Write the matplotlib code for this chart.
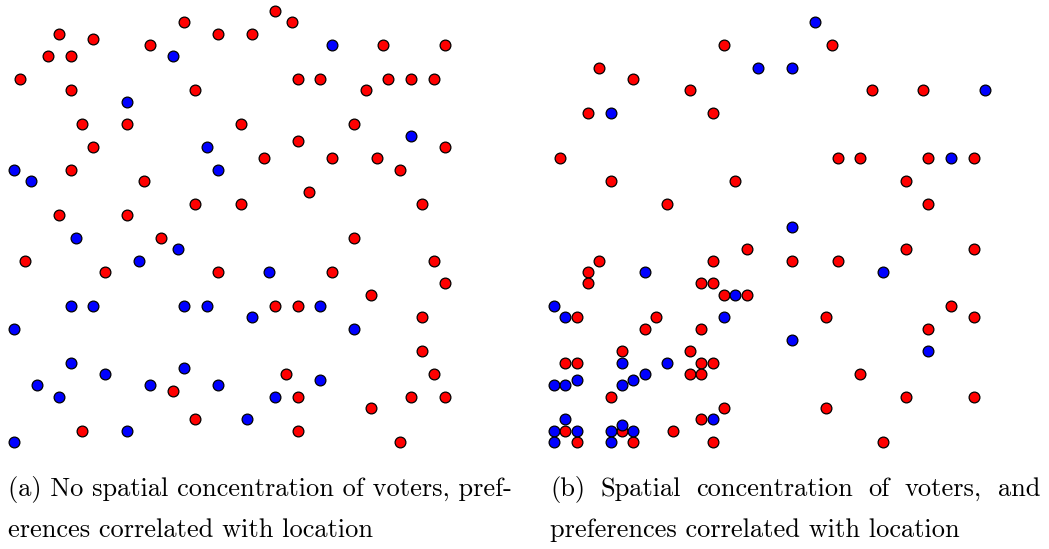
"""
voter maps, two panels
"""

import matplotlib
matplotlib.use("Agg")
import matplotlib.pyplot as plt


# panel (a): voters spread evenly, grid coordinates
a_red_x = [15, 18, 4, 7, 12, 3, 5, 0.5, 5, 16, 6, 10, 20, 7, 5, 11.5, 16, 20, 4, 10,
           23, 24.5, 21, 32.5, 38, 25, 27, 31, 33, 35, 37, 30, 38, 25, 22, 28, 32, 34,
           26, 36, 13, 1, 8, 18, 14, 16, 6, 30, 37, 38, 28, 31.5, 23, 25, 36, 36, 37,
           24, 25, 35, 38, 31.5, 25, 34]
a_red_y = [37, 36, 36, 35.5, 35, 34, 34, 32, 31, 31, 28, 28, 28, 26, 24, 23, 21, 21, 20, 20,
           38, 37, 36, 35, 35, 32, 32, 31, 32, 32, 32, 28, 26, 26.5, 25, 25, 25, 24,
           22, 21, 18, 16, 15, 15, 4.5, 2, 1, 18, 16, 14, 15, 13, 12, 12, 11, 8, 6,
           6, 4, 4, 4, 3, 1, 0]
a_blue_x = [14, 10, 17, 0, 1.5, 18, 28, 35, 5.5, 14.5, 11, 5, 7, 15, 17, 0, 5, 8, 2, 4,
            12, 15, 18, 10, 0, 22.5, 27, 21, 30, 27, 23, 20.5]
a_blue_y = [34, 30, 26, 24, 23, 24, 35, 27, 18, 17, 16, 12, 12, 12, 12, 10, 7, 6, 5, 4,
            5, 6.5, 5, 1, 0, 15, 12, 11, 10, 5.5, 4, 2]

# panel (b): voters clustered towards the lower left
b_red_x = [15, 4, 7, 12, 3, 14, 0.5, 5, 16, 10, 24.5, 28, 32.5, 25, 27, 33, 37, 31, 33,
           17, 4, 14, 3, 3, 13, 14, 15, 17, 2, 9, 8, 13, 6, 12, 1, 2, 13, 14, 12, 13,
           5, 15, 13, 1, 6, 10.5, 2, 7, 14, 31, 37, 21, 25, 35, 24, 37, 33, 27, 31, 37,
           24, 29]
b_red_y = [35, 33, 32, 31, 29, 29, 25, 23, 23, 21, 35, 31, 31, 25, 25, 25, 25, 23, 21,
           17, 16, 16, 15, 14, 14, 14, 13, 13, 11, 11, 10, 10, 8, 8, 7, 7, 7, 7, 6, 6,
           4, 3, 2, 1, 1, 1, 0, 0, 0, 17, 17, 16, 16, 12, 11, 11, 10, 6, 4, 4,
           3, 0]
b_blue_x = [18, 5, 23, 21, 38, 35, 21, 8, 16, 0, 1, 15, 6, 10, 8, 2, 7, 0, 1, 6,
            1, 14, 0, 2, 5, 6, 7, 0, 5, 29, 21, 33]
b_blue_y = [33, 29, 37, 33, 31, 25, 19, 15, 13, 12, 11, 11, 7, 7, 6, 5.5, 5.5, 5, 5, 5,
            2, 2, 1, 1, 1, 1.5, 1, 0, 0, 15, 9, 8]

cap_a = ["(a) No spatial concentration of voters, pref-",
         "erences correlated with location"]
cap_b = ["(b) Spatial concentration of voters, and",
         "preferences correlated with location"]

W, H = 1049, 549
fig = plt.figure(figsize=(W / 100, H / 100), dpi=100)

FONT = "cmr10"
FSIZE = 19.0


def draw_panel(left_px, rx, ry, bx, by):
    # one grid step is about 11.34 px, grid runs 0..38
    step = 11.342
    x0 = left_px - step
    y0 = 442 + step
    ax = fig.add_axes([x0 / W, (H - y0) / H, 40 * step / W, 39.8 * step / H])
    ax.set_xlim(-1, 39)
    ax.set_ylim(-1, 38.8)
    ax.scatter(rx, ry, s=60, c="#ff0000", edgecolors="black", linewidths=0.9,
               clip_on=False, zorder=2)
    ax.scatter(bx, by, s=60, c="#0000ff", edgecolors="black", linewidths=0.9,
               clip_on=False, zorder=3)
    ax.axis("off")
    return ax


def justified(words, x_left, x_right, y_px):
    # place words so the line fills x_left..x_right
    renderer = fig.canvas.get_renderer()
    items = []
    total = 0
    for w in words:
        t = fig.text(0, 0, w, fontsize=FSIZE, family=FONT, va="baseline")
        bb = t.get_window_extent(renderer)
        items.append((t, bb.width))
        total += bb.width
    gap = (x_right - x_left - total) / (len(words) - 1)
    x = x_left
    for t, w in items:
        t.set_position((x / W, (H - y_px) / H))
        x += w + gap


draw_panel(14, a_red_x, a_red_y, a_blue_x, a_blue_y)
draw_panel(554, b_red_x, b_red_y, b_blue_x, b_blue_y)

fig.text(8 / W, (H - 496) / H, cap_a[0], fontsize=FSIZE, family=FONT, va="baseline")
fig.text(8 / W, (H - 537) / H, cap_a[1], fontsize=FSIZE, family=FONT, va="baseline")
justified(cap_b[0].split(), 550, 1040, 496)
fig.text(550 / W, (H - 537) / H, cap_b[1], fontsize=FSIZE, family=FONT, va="baseline")

plt.savefig("out.png", dpi=100)
